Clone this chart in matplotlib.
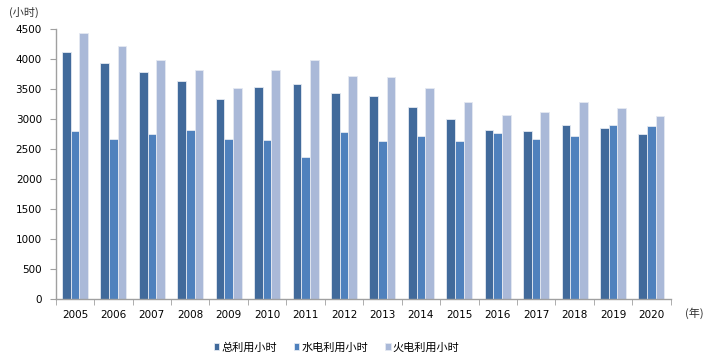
import matplotlib
matplotlib.use("Agg")
import matplotlib.pyplot as plt
import numpy as np

plt.rcParams['font.family'] = ['Noto Sans CJK SC', 'DejaVu Sans']

years = ['2005', '2006', '2007', '2008', '2009', '2010', '2011', '2012',
         '2013', '2014', '2015', '2016', '2017', '2018', '2019', '2020']
total_hours = [4110, 3933, 3772, 3638, 3338, 3538, 3588, 3433,
               3383, 3200, 3000, 2810, 2805, 2900, 2855, 2755]
hydro_hours = [2805, 2660, 2750, 2817, 2660, 2650, 2360, 2783,
               2627, 2717, 2627, 2760, 2672, 2710, 2900, 2888]
thermal_hours = [4422, 4205, 3972, 3805, 3510, 3805, 3977, 3705,
                 3700, 3510, 3283, 3067, 3110, 3272, 3172, 3043]

labels = ['总利用小时', '水电利用小时', '火电利用小时']
colors = ['#416A9B', '#4F81BD', '#AAB9D8']

fig = plt.figure(figsize=(7.15, 3.57), dpi=100)
ax = fig.add_axes([0.078, 0.1625, 0.86, 0.757])

x = np.arange(len(years))
w = 0.225
for i, vals in enumerate([total_hours, hydro_hours, thermal_hours]):
    ax.bar(x + (i - 1) * w, vals, width=w, color=colors[i],
           edgecolor='#E4E9F2', linewidth=0.6, label=labels[i])

ax.set_xlim(-0.5, len(years) - 0.5)
ax.set_ylim(0, 4500)
ax.set_yticks(np.arange(0, 4501, 500))
ax.set_xticks(x)
ax.set_xticklabels(years)
ax.set_xticks(np.arange(-0.5, len(years), 1), minor=True)

for s in ['top', 'right']:
    ax.spines[s].set_visible(False)
for s in ['left', 'bottom']:
    ax.spines[s].set_color('#A0A0A0')
    ax.spines[s].set_linewidth(1.0)

ax.tick_params(axis='y', labelsize=7.5, length=4, color='#A0A0A0', pad=6)
ax.tick_params(axis='x', which='major', labelsize=7.5, length=0, pad=8)
ax.tick_params(axis='x', which='minor', length=4, color='#A0A0A0')
for t in ax.get_xticklabels() + ax.get_yticklabels():
    t.set_family('DejaVu Sans')

fig.text(0.012, 0.965, '(小时)', fontsize=8, color='#333333', ha='left', va='center')
fig.text(0.958, 0.123, '(年)', fontsize=8, color='#333333', ha='left', va='center')

leg = fig.legend(loc='center left', bbox_to_anchor=(0.285, 0.027), ncol=3,
                 frameon=False, fontsize=8, handlelength=0.5, handleheight=0.5,
                 handletextpad=0.2, columnspacing=1.5)

fig.savefig('out.png', dpi=100)
